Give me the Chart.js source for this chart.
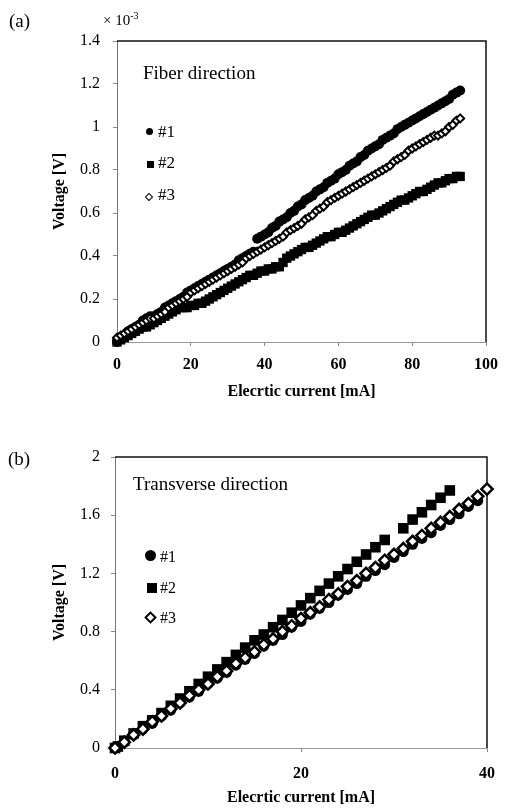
<!DOCTYPE html>
<html>
<head>
<meta charset="utf-8">
<script src="https://cdn.jsdelivr.net/npm/chart.js@4.4.0/dist/chart.umd.min.js"></script>
<style>
  body { margin: 0; background: #fff; }
  #wrap { position: relative; width: 507px; height: 810px; font-family: "Liberation Serif", "Times New Roman", serif; color: #000; }
  canvas { position: absolute; left: 0; }
  .txt { position: absolute; white-space: nowrap; line-height: 1; }
  .mk { position: absolute; box-sizing: border-box; }
  .dot { background: #000; border-radius: 50%; }
  .sq { background: #000; }
  .dia { background: #fff; border: 1.5px solid #000; transform: rotate(45deg); }
</style>
</head>
<body>
<div id="wrap">
  <canvas id="chartA" width="507" height="405" style="top:0"></canvas>
  <canvas id="chartB" width="507" height="405" style="top:405px"></canvas>

  <div class="txt" style="left:9px;top:11px;font-size:19px">(a)</div>
  <div class="txt" style="left:103px;top:11px;font-size:15px">× 10<sup style="font-size:10px">-3</sup></div>
  <div class="txt" style="left:143px;top:63px;font-size:19px">Fiber direction</div>
  <div class="mk dot" style="left:146px;top:128px;width:7px;height:7px"></div>
  <div class="txt" style="left:158px;top:123px;font-size:17px">#1</div>
  <div class="mk sq" style="left:147px;top:161px;width:7px;height:7px"></div>
  <div class="txt" style="left:158px;top:154px;font-size:17px">#2</div>
  <div class="mk dia" style="left:146px;top:194px;width:6px;height:6px"></div>
  <div class="txt" style="left:158px;top:186px;font-size:17px">#3</div>

  <div class="txt" style="left:8px;top:449px;font-size:19px">(b)</div>
  <div class="txt" style="left:133px;top:474px;font-size:19px">Transverse direction</div>
  <div class="mk dot" style="left:145px;top:550px;width:11px;height:11px"></div>
  <div class="txt" style="left:160px;top:549px;font-size:16px">#1</div>
  <div class="mk sq" style="left:147px;top:583px;width:10px;height:10px"></div>
  <div class="txt" style="left:160px;top:580px;font-size:16px">#2</div>
  <div class="mk dia" style="left:146px;top:613px;width:9px;height:9px;border-width:2px"></div>
  <div class="txt" style="left:160px;top:610px;font-size:16px">#3</div>
</div>

<script>
// (a) fiber direction, voltage in units of 1e-3 V
const currentA = [0,1,2,3,4,5,6,7,8,9,10,11,12,13,14,15,16,17,18,19,20,21,22,23,24,25,26,27,28,29,
  30,31,32,33,34,35,36,37,38,39,40,41,42,43,44,45,46,47,48,49,50,51,52,53,54,55,56,57,58,59,
  60,61,62,63,64,65,66,67,68,69,70,71,72,73,74,75,76,77,78,79,80,81,82,83,84,85,86,87,88,89,
  90,91,92,93];
const fiber1 = [0.00,0.02,0.03,0.05,0.06,0.07,0.08,0.10,0.11,0.12,
  0.12,0.13,0.14,0.16,0.17,0.18,0.19,0.20,0.21,0.23,
  0.24,0.25,0.26,0.27,0.28,0.29,0.30,0.31,0.32,0.33,
  0.34,0.35,0.36,0.38,0.39,0.40,0.41,0.42,0.48,0.49,
  0.50,0.51,0.53,0.54,0.56,0.57,0.58,0.60,0.61,0.63,
  0.64,0.66,0.67,0.68,0.70,0.71,0.72,0.74,0.75,0.76,
  0.78,0.79,0.80,0.82,0.83,0.84,0.86,0.87,0.89,0.90,
  0.91,0.92,0.94,0.95,0.96,0.97,0.99,1.00,1.01,1.02,
  1.03,1.04,1.05,1.06,1.07,1.08,1.09,1.10,1.11,1.12,
  1.13,1.15,1.16,1.17];
const fiber2 = [0.00,0.01,0.02,0.03,0.04,0.05,0.06,0.07,0.07,0.08,
  0.09,0.10,0.11,0.12,0.13,0.14,0.15,0.16,0.16,0.16,
  0.17,0.17,0.18,0.18,0.19,0.20,0.21,0.22,0.23,0.24,
  0.25,0.26,0.27,0.28,0.29,0.30,0.31,0.31,0.32,0.33,
  0.33,0.34,0.34,0.35,0.35,0.37,0.39,0.40,0.41,0.42,
  0.43,0.44,0.44,0.45,0.46,0.47,0.48,0.49,0.49,0.50,
  0.51,0.51,0.52,0.53,0.54,0.55,0.56,0.57,0.58,0.59,
  0.59,0.60,0.61,0.62,0.63,0.64,0.65,0.66,0.66,0.67,
  0.68,0.69,0.70,0.70,0.71,0.72,0.73,0.74,0.74,0.75,
  0.76,0.76,0.77,0.77];
const fiber3 = [0.02,0.03,0.04,0.05,0.06,0.07,0.08,0.09,0.10,0.11,
  0.11,0.12,0.13,0.14,0.16,0.17,0.18,0.19,0.20,0.21,
  0.23,0.24,0.25,0.26,0.27,0.28,0.29,0.30,0.31,0.32,
  0.33,0.34,0.35,0.36,0.37,0.39,0.40,0.41,0.42,0.43,
  0.44,0.45,0.46,0.47,0.48,0.49,0.51,0.52,0.53,0.54,
  0.55,0.57,0.58,0.59,0.61,0.62,0.63,0.65,0.66,0.67,
  0.68,0.69,0.70,0.71,0.72,0.73,0.74,0.75,0.76,0.77,
  0.78,0.79,0.80,0.81,0.82,0.84,0.85,0.86,0.87,0.89,
  0.90,0.91,0.92,0.93,0.94,0.95,0.96,0.96,0.97,0.98,
  1.00,1.01,1.03,1.04];
const xTicksA = [0, 20, 40, 60, 80, 100];
const yTicksA = [0, 0.2, 0.4, 0.6, 0.8, 1, 1.2, 1.4];

// (b) transverse direction, voltage in V
const currentB1 = [0,0.3,1,2,3,4,5,6,7,8,9,10,11,12,13,14,15,16,17,18,19,20,
  21,22,23,24,25,26,27,28,29,30,31,32,33,34,35,36,37,38,39];
const transverse1 = [0,0.01,0.04,0.09,0.13,0.17,0.22,0.26,0.31,0.35,0.39,0.44,0.48,0.52,0.57,0.61,
  0.65,0.70,0.74,0.78,0.83,0.87,0.92,0.96,1.00,1.05,1.09,1.13,1.18,1.22,1.26,1.31,
  1.35,1.40,1.44,1.48,1.53,1.57,1.61,1.66,1.70];
const currentB2 = [0,0.3,1,2,3,4,5,6,7,8,9,10,11,12,13,14,15,16,17,18,19,20,
  21,22,23,24,25,26,27,28,29,31,32,33,34,35,36];
const transverse2 = [0,0.01,0.05,0.10,0.15,0.19,0.24,0.29,0.34,0.39,0.44,0.49,0.54,0.59,0.64,0.69,
  0.74,0.78,0.83,0.88,0.93,0.98,1.03,1.08,1.13,1.18,1.23,1.28,1.33,1.38,1.43,
  1.51,1.57,1.62,1.67,1.72,1.77];
const currentB3 = [0,1,2,3,4,5,6,7,8,9,10,11,12,13,14,15,16,17,18,19,20,
  21,22,23,24,25,26,27,28,29,30,31,32,33,34,35,36,37,38,39,40];
const transverse3 = [0.00,0.04,0.09,0.13,0.18,0.22,0.27,0.31,0.36,0.40,0.44,0.49,0.53,0.58,0.62,
  0.66,0.71,0.75,0.80,0.84,0.89,0.93,0.97,1.02,1.06,1.11,1.15,1.20,1.24,1.29,1.33,
  1.37,1.42,1.46,1.51,1.55,1.59,1.64,1.68,1.73,1.78];
const xTicksB = [0, 20, 40];
const yTicksB = [0, 0.4, 0.8, 1.2, 1.6, 2];

const seriesNames = ["#1", "#2", "#3"];

const serif = "'Liberation Serif', 'Times New Roman', serif";

const toPoints = (xs, ys) => xs.map((x, i) => ({ x: x, y: ys[i] }));

// top and right edges of the plot box, drawn under the markers
const framePlugin = {
  id: "frame",
  beforeDatasetsDraw(chart) {
    const { ctx, chartArea } = chart;
    ctx.save();
    ctx.strokeStyle = "#111";
    ctx.lineWidth = 1.5;
    ctx.beginPath();
    ctx.moveTo(chartArea.left, chartArea.top);
    ctx.lineTo(chartArea.right, chartArea.top);
    ctx.lineTo(chartArea.right, chartArea.bottom);
    ctx.stroke();
    ctx.restore();
  },
};

const makeChart = (id, cfg) => {
  const ctx = document.getElementById(id).getContext("2d");
  return new Chart(ctx, {
    type: "scatter",
    data: { datasets: cfg.datasets },
    options: {
      responsive: false,
      animation: false,
      devicePixelRatio: 1,
      layout: { padding: cfg.padding },
      plugins: { legend: { display: false }, tooltip: { enabled: false } },
      scales: {
        x: {
          type: "linear",
          min: cfg.xTicks[0],
          max: cfg.xTicks[cfg.xTicks.length - 1],
          afterBuildTicks: (s) => { s.ticks = cfg.xTicks.map((v) => ({ value: v })); },
          afterFit: (s) => { s.height = cfg.xHeight; },
          grid: { drawOnChartArea: false, tickLength: 4, color: "#888" },
          border: { color: "#999", dash: [7, 5] },
          ticks: {
            padding: cfg.xPad,
            color: "#000",
            font: { family: serif, size: 16, weight: "bold" },
            callback: (v) => String(v),
          },
          title: {
            display: true,
            text: "Elecrtic current [mA]",
            color: "#000",
            padding: cfg.xTitlePad,
            font: { family: serif, size: 16, weight: "bold" },
          },
        },
        y: {
          type: "linear",
          min: cfg.yTicks[0],
          max: cfg.yTicks[cfg.yTicks.length - 1],
          afterBuildTicks: (s) => { s.ticks = cfg.yTicks.map((v) => ({ value: v })); },
          afterFit: (s) => { s.width = cfg.yWidth; },
          grid: { drawOnChartArea: false, tickLength: 4, color: "#888" },
          border: { color: "#777" },
          ticks: {
            padding: cfg.yPad,
            color: "#000",
            font: { family: serif, size: 16 },
            callback: (v) => String(v),
          },
          title: {
            display: true,
            text: "Voltage [V]",
            color: "#000",
            padding: { top: 2, bottom: 2 },
            font: { family: serif, size: 16, weight: "bold" },
          },
        },
      },
    },
    plugins: [framePlugin],
  });
};

// Panel (a)
makeChart("chartA", {
  padding: { left: 48, top: 41, right: 15, bottom: 0 },
  yWidth: 69,
  xHeight: 63,
  xPad: 9,
  yPad: 13,
  xTitlePad: { top: 4, bottom: 4 },
  xTicks: xTicksA,
  yTicks: yTicksA,
  datasets: [
    { label: seriesNames[0], data: toPoints(currentA, fiber1), order: 2, clip: false,
      pointStyle: "circle", pointRadius: 5, backgroundColor: "#000", borderColor: "#000", borderWidth: 0 },
    { label: seriesNames[1], data: toPoints(currentA, fiber2), order: 1, clip: false,
      pointStyle: "rect", pointRadius: 6.6, backgroundColor: "#000", borderColor: "#000", borderWidth: 0 },
    { label: seriesNames[2], data: toPoints(currentA, fiber3), order: 0, clip: false,
      pointStyle: "rectRot", pointRadius: 4, backgroundColor: "#fff", borderColor: "#000", borderWidth: 2 },
  ],
});

// Panel (b)
makeChart("chartB", {
  padding: { left: 48, top: 52, right: 12, bottom: 0 },
  yWidth: 67,
  xHeight: 62,
  xPad: 12,
  yPad: 11,
  xTitlePad: { top: 4, bottom: 3 },
  xTicks: xTicksB,
  yTicks: yTicksB,
  datasets: [
    { label: seriesNames[0], data: toPoints(currentB1, transverse1), order: 2, clip: false,
      pointStyle: "circle", pointRadius: 5.5, backgroundColor: "#000", borderColor: "#000", borderWidth: 0 },
    { label: seriesNames[1], data: toPoints(currentB2, transverse2), order: 1, clip: false,
      pointStyle: "rect", pointRadius: 7.5, backgroundColor: "#000", borderColor: "#000", borderWidth: 0 },
    { label: seriesNames[2], data: toPoints(currentB3, transverse3), order: 0, clip: false,
      pointStyle: "rectRot", pointRadius: 5.6, backgroundColor: "#fff", borderColor: "#000", borderWidth: 2.5 },
  ],
});
</script>
</body>
</html>
